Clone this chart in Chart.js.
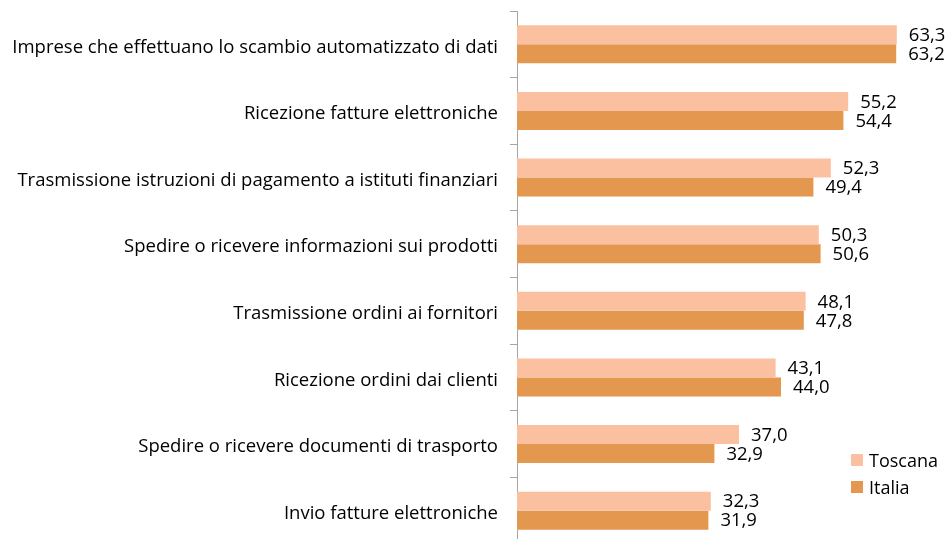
<!DOCTYPE html>
<html><head><meta charset="utf-8">
<script src="https://cdn.jsdelivr.net/npm/chart.js@4/dist/chart.umd.min.js"></script>
<style>
html,body{margin:0;padding:0;background:#fff;overflow:hidden;}
#wrap{position:relative;width:948px;height:545px;}
#legend{position:absolute;left:851px;top:446px;font-family:"Open Sans",sans-serif;font-size:18px;color:#000;}
#legend div{display:flex;align-items:center;height:27px;}
#legend span.sw{display:inline-block;width:12px;height:12px;margin-right:6px;}
</style></head>
<body>
<div id="wrap"><canvas id="c" width="948" height="545"></canvas>
<div id="legend"></div></div>
<script>
const categories = [
 "Imprese che effettuano lo scambio automatizzato di dati",
 "Ricezione fatture elettroniche",
 "Trasmissione istruzioni di pagamento a istituti finanziari",
 "Spedire o ricevere informazioni sui prodotti",
 "Trasmissione ordini ai fornitori",
 "Ricezione ordini dai clienti",
 "Spedire o ricevere documenti di trasporto",
 "Invio fatture elettroniche"
];
const seriesNames = ["Toscana", "Italia"];
const toscana = [63.3, 55.2, 52.3, 50.3, 48.1, 43.1, 37.0, 32.3];
const italia = [63.2, 54.4, 49.4, 50.6, 47.8, 44.0, 32.9, 31.9];
const colors = ["#FAC0A0", "#E3974F"];
const FONT = "'Open Sans', sans-serif";

const labelPlugin = {
  id: 'vals',
  afterDatasetsDraw(chart) {
    const ctx = chart.ctx;
    ctx.save();
    ctx.font = "18.5px " + FONT;
    ctx.fillStyle = "#000";
    ctx.textBaseline = "middle";
    ctx.textAlign = "left";
    chart.data.datasets.forEach((ds, di) => {
      chart.getDatasetMeta(di).data.forEach((bar, i) => {
        const t = ds.data[i].toFixed(1).replace('.', ',');
        ctx.fillText(t, bar.x + 12, bar.y + 1);
      });
    });
    ctx.restore();
  }
};

new Chart(document.getElementById('c'), {
  type: 'bar',
  data: {
    labels: categories,
    datasets: [
      {label: seriesNames[0], data: toscana, backgroundColor: colors[0], barPercentage: 1, categoryPercentage: 0.57},
      {label: seriesNames[1], data: italia, backgroundColor: colors[1], barPercentage: 1, categoryPercentage: 0.57}
    ]
  },
  options: {
    indexAxis: 'y',
    responsive: false,
    animation: false,
    layout: {padding: {top: 11, bottom: 1, right: 11, left: 0}},
    plugins: {legend: {display: false}, tooltip: {enabled: false}},
    scales: {
      x: {display: false, min: 0, max: 70},
      y: {
        afterFit(s) { s.width = 517; s.paddingTop = 0; s.paddingBottom = 0; },
        grid: {drawOnChartArea: false, tickLength: 7, color: '#A6A6A6', offset: true},
        border: {color: '#A6A6A6', width: 1},
        ticks: {color: '#000', font: {family: FONT, size: 18.5}, padding: 12, labelOffset: 3}
      }
    }
  },
  plugins: [labelPlugin]
});

const lg = document.getElementById('legend');
seriesNames.forEach((n, i) => {
  const d = document.createElement('div');
  d.innerHTML = '<span class="sw" style="background:' + colors[i] + '"></span>' + n;
  lg.appendChild(d);
});
</script>
</body></html>
